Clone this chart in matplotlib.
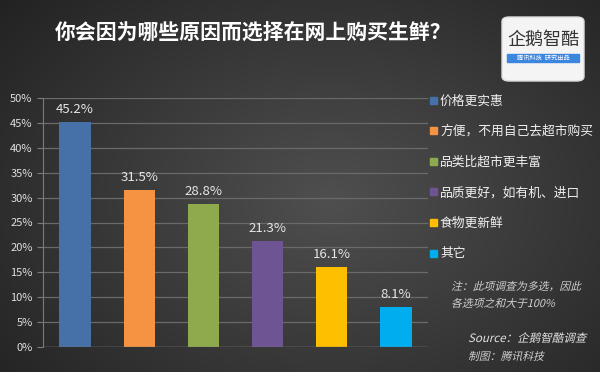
import matplotlib
matplotlib.use("Agg")
import matplotlib.pyplot as plt
import numpy as np
from matplotlib.patches import FancyBboxPatch, Rectangle, PathPatch
from matplotlib.textpath import TextPath
from matplotlib.font_manager import FontProperties
from matplotlib.transforms import Affine2D

plt.rcParams['font.family'] = ['Noto Sans CJK SC', 'DejaVu Sans']

categories = ['价格更实惠', '方便，不用自己去超市购买', '品类比超市更丰富',
              '品质更好，如有机、进口', '食物更新鲜', '其它']
values = [45.2, 31.5, 28.8, 21.3, 16.1, 8.1]
colors = ['#4571a8', '#f59343', '#8eaa4c', '#6e5492', '#fdbf00', '#00aeef']
yticks = [0, 5, 10, 15, 20, 25, 30, 35, 40, 45, 50]

fig = plt.figure(figsize=(6, 3.72), dpi=100)

# radial gradient background
bg = fig.add_axes([0, 0, 1, 1], zorder=-10)
yy, xx = np.mgrid[0:372, 0:600]
r = np.sqrt(((xx - 330) / 420.0) ** 2 + ((yy - 200) / 300.0) ** 2)
shade = np.clip(0.31 - 0.17 * r, 0.12, 0.31)
bg.imshow(np.dstack([shade, shade, shade]), extent=[0, 1, 0, 1], aspect='auto')
bg.set_axis_off()

ax = fig.add_axes([43 / 600, 1 - 347 / 372, (428 - 43) / 600, (347 - 98) / 372])
ax.set_facecolor('none')
x = np.arange(len(values))
ax.bar(x, values, width=0.49, color=colors, zorder=3)
for xi, v in zip(x, values):
    ax.text(xi, v + 1.2, f'{v}%', ha='center', va='bottom', color='#e6e6e6', fontsize=9.5)

ax.set_xlim(-0.5, len(values) - 0.5)
ax.set_ylim(0, 50)
ax.set_yticks(yticks)
ax.set_yticklabels([f'{t}%' for t in yticks], color='#e0e0e0', fontsize=8)
ax.set_xticks([])
ax.yaxis.grid(True, color='#6a6a6a', linewidth=0.9, zorder=0)
for s in ['top', 'right', 'bottom']:
    ax.spines[s].set_visible(False)
ax.spines['left'].set_color('#7a7a7a')
ax.tick_params(axis='y', colors='#7a7a7a', length=4, labelcolor='#e0e0e0')
ax.axhline(0, color='#7a7a7a', linewidth=1, zorder=4)

# legend
for i, (c, col) in enumerate(zip(categories, colors)):
    ytop = 100 + i * 30.6
    fig.patches.append(Rectangle((430 / 600, 1 - (ytop + 3.5) / 372), 7 / 600, 7 / 372,
                                 transform=fig.transFigure, color=col, figure=fig))
    fig.text(440 / 600, 1 - (ytop + 1) / 372, c, color='#f0f0f0', fontsize=9.2, va='center')

fig.text(55 / 600, 1 - 33 / 372, '你会因为哪些原因而选择在网上购买生鲜？', color='white',
         fontsize=15, fontweight='bold', va='center')


def italic_text(px, py, s, size, color):
    # slanted text drawn from a text path (CJK font has no italic face)
    fp = FontProperties(family='Noto Sans CJK SC')
    tp = TextPath((0, 0), s, size=size, prop=fp)
    tr = (Affine2D().skew_deg(14, 0).scale(1 / 72.0)
          .translate(px / 100.0, (372 - py) / 100.0) + fig.dpi_scale_trans)
    fig.patches.append(PathPatch(tp, transform=tr, facecolor=color, edgecolor='none',
                                 figure=fig))


italic_text(451, 290, '注：此项调查为多选，因此', 7.8, '#d0d0d0')
italic_text(451, 307, '各选项之和大于100%', 7.8, '#d0d0d0')
italic_text(468, 342, 'Source：企鹅智酷调查', 8.3, '#e0e0e0')
italic_text(468, 360, '制图：腾讯科技', 7.8, '#d0d0d0')

# logo
fig.patches.append(FancyBboxPatch((502 / 600, 1 - 81 / 372), 82 / 600, 64 / 372,
                                  boxstyle='round,pad=0,rounding_size=0.012',
                                  transform=fig.transFigure, facecolor='#f4f4f4',
                                  edgecolor='#dddddd', figure=fig))
fig.text(543 / 600, 1 - 40 / 372, '企鹅智酷', color='#333333', fontsize=13,
         ha='center', va='center')
fig.patches.append(Rectangle((507 / 600, 1 - 62 / 372), 72 / 600, 8 / 372,
                             transform=fig.transFigure, color='#3d86e0', figure=fig))
fig.text(543 / 600, 1 - 58 / 372, '腾讯科技  研究出品', color='white', fontsize=4.5,
         ha='center', va='center')

fig.savefig('out.png', dpi=100)
